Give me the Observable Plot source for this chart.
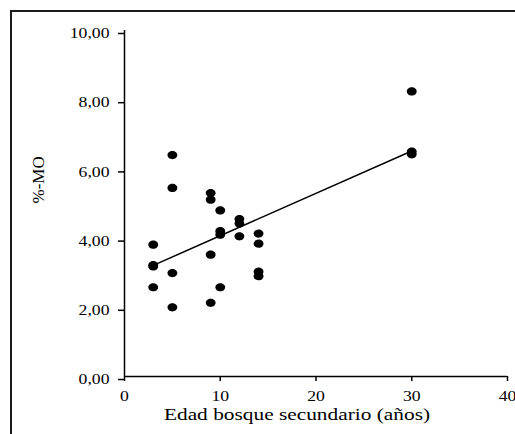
<!DOCTYPE html>
<html><head><meta charset="utf-8">
<script src="https://cdn.jsdelivr.net/npm/d3@7"></script>
<script src="https://cdn.jsdelivr.net/npm/@observablehq/plot@0.6"></script>
<style>
html,body{margin:0;padding:0;background:#fff;overflow:hidden;}
#wrap{position:relative;width:515px;height:434px;overflow:hidden;}
#frame{position:absolute;left:10px;top:10px;width:600px;height:600px;border-top:2px solid #1a1a1a;border-left:2px solid #1a1a1a;}
#chart{position:absolute;left:0;top:0;}
</style></head><body>
<div id="wrap"><div id="frame"></div><div id="chart"></div></div>
<script>
const edad = [3,3,3,3, 5,5,5,5, 9,9,9,9, 10,10,10,10, 12,12,12, 14,14,14,14, 30,30,30];
const mo   = [3.81,3.22,3.18,2.58, 6.40,5.45,2.99,2.00, 5.30,5.11,3.52,2.13, 4.80,4.20,4.10,2.58, 4.55,4.42,4.05, 4.13,3.84,3.03,2.90, 8.24,6.50,6.42];
const xTicks = [0,10,20,30,40];
const yTicks = [0,2,4,6,8,10];
const xLabel = "Edad bosque secundario (años)";
const yLabel = "%-MO";

const data = edad.map((x,i)=>({edad:x, mo:mo[i]}));
const ellipse = {draw(ctx, size){
  const r = Math.sqrt(size/Math.PI), rx = r*1.2, ry = r, k = 0.5523;
  ctx.moveTo(rx,0);
  ctx.bezierCurveTo(rx,k*ry,k*rx,ry,0,ry);
  ctx.bezierCurveTo(-k*rx,ry,-rx,k*ry,-rx,0);
  ctx.bezierCurveTo(-rx,-k*ry,-k*rx,-ry,0,-ry);
  ctx.bezierCurveTo(k*rx,-ry,rx,-k*ry,rx,0);
  ctx.closePath();
}};

const plot = Plot.plot({
  width:515, height:434, marginLeft:124, marginRight:8, marginTop:30, marginBottom:58,
  style:{fontFamily:"'Liberation Serif','Times New Roman',serif", fontSize:"14.5px", color:"#000", background:"transparent", overflow:"visible"},
  x:{domain:[0,40]}, y:{domain:[0,10]},
  marks:[
    Plot.axisX({ticks:xTicks, tickSize:5, tickPadding:9.5, strokeWidth:1.5, label:null, fontSize:14.5}),
    Plot.axisY({ticks:yTicks, tickSize:6, tickPadding:9, strokeWidth:1.5, label:null, fontSize:14.5, dy:3,
      tickFormat: d => d.toFixed(2).replace(".", ",")}),
    Plot.ruleX([0], {strokeWidth:1.5}),
    Plot.ruleY([0], {strokeWidth:1.5}),
    Plot.linearRegressionY(data, {x:"edad", y:"mo", ci:0, stroke:"#000", strokeWidth:1.5}),
    Plot.dot(data, {x:"edad", y:"mo", r:4.1, symbol:ellipse, fill:"#000", stroke:"none"}),
    Plot.text([xLabel], {text:d=>d, frameAnchor:"bottom", dx:-19, dy:43, fontSize:17.5}),
    Plot.text([yLabel], {text:d=>d, frameAnchor:"left", dx:-86, rotate:-90, fontSize:17})
  ]
});
plot.querySelectorAll("text").forEach(t => {
  const tr = t.getAttribute("transform") || "";
  if (tr.includes("rotate")) return;
  t.setAttribute("transform", tr + " scale(1.22,1)");
});
document.getElementById("chart").appendChild(plot);
</script>
</body></html>
